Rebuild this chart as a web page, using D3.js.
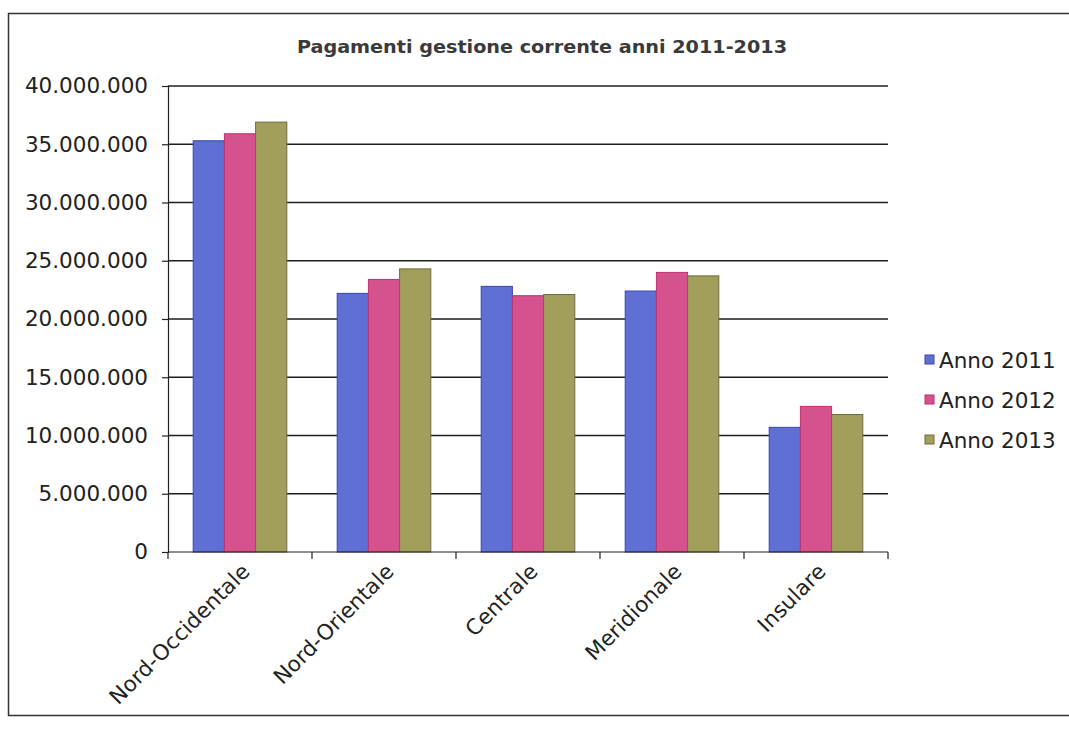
<!DOCTYPE html>
<html>
<head>
<meta charset="utf-8">
<script src="https://cdn.jsdelivr.net/npm/d3@7"></script>
<style>
  html, body { margin: 0; padding: 0; background: #ffffff; }
  svg { display: block; }
  text { font-family: "DejaVu Sans", Verdana, sans-serif; fill: #222; }
</style>
</head>
<body>
<svg id="chart" width="1069" height="729"></svg>
<script>
// Regions (ripartizioni territoriali)
const categories = ["Nord-Occidentale", "Nord-Orientale", "Centrale", "Meridionale", "Insulare"];
// Series names
const seriesNames = ["Anno 2011", "Anno 2012", "Anno 2013"];
// Current-management payments per region, one array per year
const anno2011 = [35300000, 22200000, 22800000, 22400000, 10700000];
const anno2012 = [35900000, 23400000, 22000000, 24000000, 12500000];
const anno2013 = [36900000, 24300000, 22100000, 23700000, 11800000];
// Y-axis ticks
const yTicks = [0, 5000000, 10000000, 15000000, 20000000, 25000000, 30000000, 35000000, 40000000];

const seriesValues = [anno2011, anno2012, anno2013];
const fills = ["#5f6fd4", "#d4528e", "#a29e5c"];
const strokes = ["#3a46a8", "#c0306a", "#6f6c38"];

const svg = d3.select("#chart");

// outer chart frame
svg.append("rect")
  .attr("x", 8.5).attr("y", 13.5)
  .attr("width", 1075).attr("height", 702)
  .attr("fill", "none").attr("stroke", "#333").attr("stroke-width", 1.5);

const plot = { left: 168, right: 888, top: 86, bottom: 552 };

const x0 = d3.scaleBand().domain(categories).range([plot.left, plot.right]).paddingInner(0.35).paddingOuter(0.175);
const x1 = d3.scaleBand().domain(seriesNames).range([0, x0.bandwidth()]);
const y = d3.scaleLinear().domain([0, 40000000]).range([plot.bottom, plot.top]);

const fmt = v => d3.format(",")(v).replace(/,/g, ".");

// title
svg.append("text")
  .attr("x", 542).attr("y", 53)
  .attr("text-anchor", "middle")
  .attr("font-size", 18.5).attr("font-weight", "bold")
  .style("font-family", "'DejaVu Sans Condensed', 'DejaVu Sans', sans-serif")
  .style("fill", "#3a3a3a")
  .attr("textLength", 490).attr("lengthAdjust", "spacingAndGlyphs")
  .text("Pagamenti gestione corrente anni 2011-2013");

// horizontal gridlines
svg.append("g").selectAll("line")
  .data(yTicks.filter(t => t > 0))
  .join("line")
  .attr("x1", plot.left).attr("x2", plot.right)
  .attr("y1", d => y(d)).attr("y2", d => y(d))
  .attr("stroke", "#1e1e1e").attr("stroke-width", 1.6);

// y axis
const yAxis = svg.append("g")
  .attr("transform", `translate(${plot.left},0)`)
  .call(d3.axisLeft(y).tickValues(yTicks).tickFormat(fmt).tickSize(6).tickPadding(14));
yAxis.select(".domain").attr("stroke", "#222").attr("stroke-width", 1.2);
yAxis.selectAll(".tick line").attr("stroke", "#222").attr("stroke-width", 1.2);
yAxis.selectAll(".tick text")
  .attr("font-size", 21.5).style("fill", "#222")
  .style("font-family", "'DejaVu Sans', Verdana, sans-serif");

// bars
const groups = svg.append("g").selectAll("g")
  .data(categories)
  .join("g")
  .attr("transform", d => `translate(${x0(d)},0)`);

groups.selectAll("rect")
  .data((d, i) => seriesNames.map((s, j) => ({ s, j, v: seriesValues[j][i] })))
  .join("rect")
  .attr("x", d => x1(d.s))
  .attr("y", d => y(d.v))
  .attr("width", x1.bandwidth())
  .attr("height", d => y(0) - y(d.v))
  .attr("fill", d => fills[d.j])
  .attr("stroke", d => strokes[d.j])
  .attr("stroke-width", 1);

// x axis with ticks between categories
const step = (plot.right - plot.left) / categories.length;
const xAxisG = svg.append("g");
xAxisG.append("line")
  .attr("x1", plot.left).attr("x2", plot.right)
  .attr("y1", plot.bottom).attr("y2", plot.bottom)
  .attr("stroke", "#222").attr("stroke-width", 1.2);
xAxisG.selectAll("line.tick")
  .data(d3.range(categories.length + 1))
  .join("line")
  .attr("class", "tick")
  .attr("x1", i => plot.left + i * step).attr("x2", i => plot.left + i * step)
  .attr("y1", plot.bottom).attr("y2", plot.bottom + 7)
  .attr("stroke", "#222").attr("stroke-width", 1.2);

// rotated category labels
xAxisG.selectAll("text")
  .data(categories)
  .join("text")
  .attr("text-anchor", "end")
  .attr("font-size", 21.5)
  .attr("transform", d => `translate(${x0(d) + x0.bandwidth() / 2 + 11},${plot.bottom + 21}) rotate(-45)`)
  .text(d => d);

// legend
const legend = svg.append("g").attr("transform", "translate(925,360)");
const li = legend.selectAll("g")
  .data(seriesNames)
  .join("g")
  .attr("transform", (d, i) => `translate(0,${i * 40})`);
li.append("rect")
  .attr("x", 0).attr("y", -5).attr("width", 9).attr("height", 9)
  .attr("fill", (d, i) => fills[i]).attr("stroke", (d, i) => strokes[i]).attr("stroke-width", 1);
li.append("text")
  .attr("x", 14).attr("y", 0).attr("dy", "0.35em")
  .attr("font-size", 21.5)
  .text(d => d);
</script>
</body>
</html>
